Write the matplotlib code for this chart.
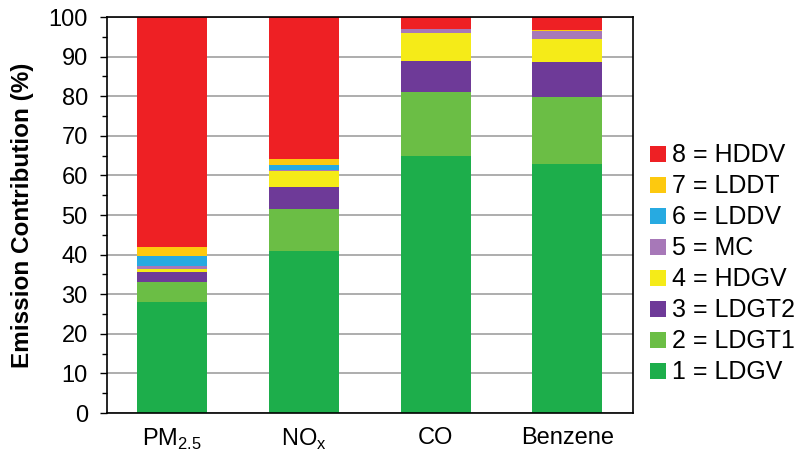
import numpy as np
import matplotlib
matplotlib.use('Agg')
import matplotlib.pyplot as plt
from matplotlib.ticker import MultipleLocator

plt.rcParams['font.family'] = ['Liberation Sans', 'DejaVu Sans']
plt.rcParams['mathtext.fontset'] = 'custom'
plt.rcParams['mathtext.rm'] = 'Liberation Sans'

categories = ['PM$_{\\mathrm{2.5}}$', 'NO$_{\\mathrm{x}}$', 'CO', 'Benzene']
labels = ['1 = LDGV', '2 = LDGT1', '3 = LDGT2', '4 = HDGV', '5 = MC', '6 = LDDV', '7 = LDDT', '8 = HDDV']
colors = ['#1dae4b', '#6bbe45', '#6e3a98', '#f5eb18', '#a778b8', '#27aae1', '#fdc90f', '#ee2024']

# contribution (%) per vehicle class, order: PM2.5, NOx, CO, Benzene
ldgv = [28.0, 41.0, 65.0, 62.8]
ldgt1 = [5.2, 10.5, 16.0, 17.1]
ldgt2 = [2.5, 5.7, 8.0, 8.7]
hdgv = [0.7, 4.0, 7.0, 5.8]
mc = [0.7, 0.2, 1.0, 2.1]
lddv = [2.5, 1.2, 0.0, 0.0]
lddt = [2.4, 1.5, 0.0, 0.2]
hddv = [58.0, 36.1, 3.0, 3.3]
series = [ldgv, ldgt1, ldgt2, hdgv, mc, lddv, lddt, hddv]

fig = plt.figure(figsize=(8, 4.68), dpi=100)
ax = fig.add_axes([0.134, 0.1175, 0.6575, 0.846])

x = np.arange(len(categories))
bottom = np.zeros(len(categories))
handles = []
for vals, lab, col in zip(series, labels, colors):
    b = ax.bar(x, vals, 0.532, bottom=bottom, color=col, label=lab, zorder=2)
    handles.append(b)
    bottom += np.array(vals)

ax.set_ylim(0, 100)
ax.set_xlim(-0.494, 3.5)
ax.yaxis.set_major_locator(MultipleLocator(10))
ax.yaxis.set_minor_locator(MultipleLocator(5))
ax.grid(axis='y', color='#a0a0a0', linewidth=1.2, zorder=0)
ax.set_xticks(x)
ax.set_xticklabels(categories, fontsize=17)
ax.tick_params(axis='x', length=0, pad=10)
ax.tick_params(axis='y', which='major', labelsize=17, length=5, width=1, pad=9)
ax.tick_params(axis='y', which='minor', length=3.5, width=1)
ax.set_ylabel('Emission Contribution (%)', fontsize=17.5, fontweight='bold', labelpad=10)
for s in ax.spines.values():
    s.set_linewidth(1.2)

leg = fig.legend(handles[::-1], labels[::-1], loc='center left', bbox_to_anchor=(0.8125, 0.436),
                 frameon=False, fontsize=18, handlelength=0.62, handleheight=0.62,
                 handletextpad=0.25, labelspacing=0.28, borderpad=0, borderaxespad=0)

fig.savefig('out.png', dpi=100)
